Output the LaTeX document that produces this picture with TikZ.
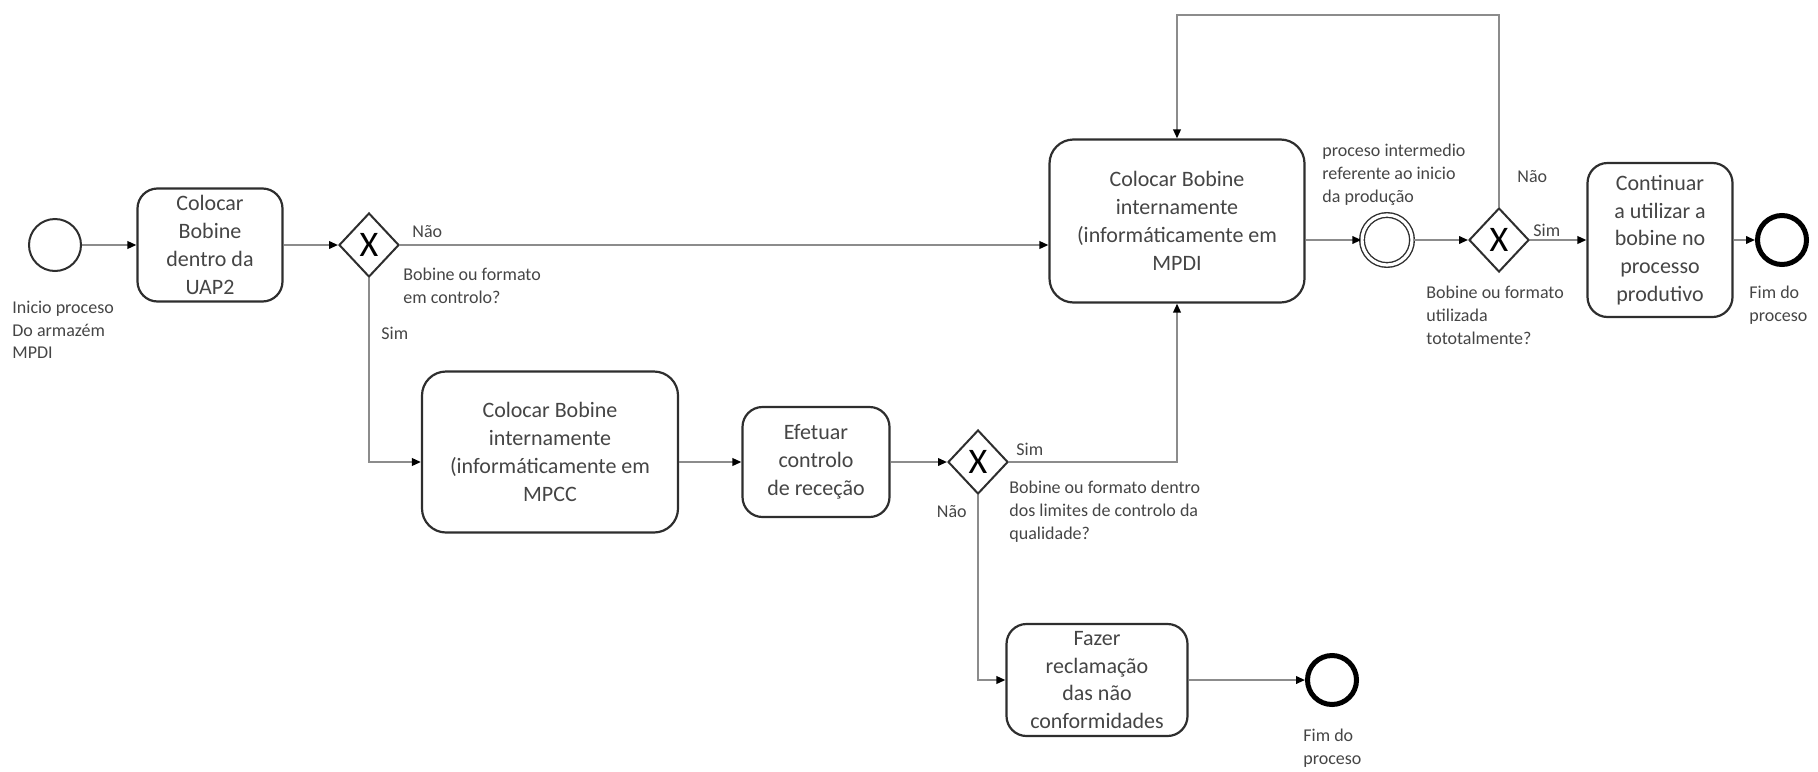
\documentclass[tikz,border=0pt]{standalone}
\usepackage{fontspec}
\setmainfont{Carlito}
\usepackage{xcolor}
\definecolor{BoxLine} {HTML}{2E2E2E}
\definecolor{FlowGray}{HTML}{8C8C8C}
\definecolor{TextGray}{HTML}{454545}
\usetikzlibrary{arrows.meta,positioning,shapes.geometric}

\begin{document}
\begin{tikzpicture}[x=0.5pt,y=-0.5pt,
  activity/.style={draw=BoxLine,fill=white,line width=1.1pt,rounded corners=10pt,
    font=\fontsize{11}{13.9}\selectfont,text=TextGray,inner sep=2pt,align=center},
  gateway/.style={diamond,draw=BoxLine,fill=white,line width=1pt,inner sep=0pt,
    minimum width=30pt,minimum height=32pt,font=\fontsize{18}{18}\selectfont},
  startev/.style={circle,draw=BoxLine,line width=1pt,minimum size=26pt,inner sep=0pt},
  endev/.style={circle,draw=black,line width=2.5pt,minimum size=24.5pt,inner sep=0pt},
  midev/.style={circle,draw=BoxLine,line width=0.7pt,double,double distance=1.6pt,
    minimum size=25pt,inner sep=0pt},
  arr/.style={-{Triangle[length=4.5pt,width=3.8pt,color=black]},FlowGray,line width=0.9pt},
  lbl/.style={font=\fontsize{9}{11.3}\selectfont,text=TextGray,inner sep=0pt,align=left}]
  \useasboundingbox (0,0) rectangle (1818,771);

  % upper flow
  \node[startev](start) at (55,245) {};
  \node[activity,minimum width=72.5pt,minimum height=56.5pt](uap) at (210,245)
    {Colocar\\Bobine\\dentro da\\UAP2};
  \node[gateway](gwctl) at (369,245) {X};
  \node[activity,minimum width=127.5pt,minimum height=81.5pt,rounded corners=12pt](mpdi)
    at (1177,221)
    {Colocar Bobine\\internamente\\(informáticamente em\\MPDI};
  \node[midev](inter) at (1387,240) {};
  \node[gateway](gwuse) at (1499,240) {X};
  \node[activity,minimum width=72.5pt,minimum height=77pt](cont) at (1660,240)
    {Continuar\\a utilizar a\\bobine no\\processo\\produtivo};
  \node[endev](endtop) at (1782,240) {};

  % lower flow
  \node[activity,minimum width=128pt,minimum height=80.5pt,rounded corners=12pt](mpcc)
    at (550,452)
    {Colocar Bobine\\internamente\\(informáticamente em\\MPCC};
  \node[activity,minimum width=73.5pt,minimum height=55pt](recep) at (816,462)
    {Efetuar\\controlo\\de receção};
  \node[gateway](gwqual) at (978,462) {X};
  \node[activity,minimum width=90.5pt,minimum height=56pt](recl) at (1097,680)
    {Fazer\\reclamação\\das não\\conformidades};
  \node[endev](endlow) at (1332,680) {};
  \coordinate (back) at (1340,15);

  % sequence flows
  \draw[arr](start)--(uap);
  \draw[arr](uap)--(gwctl);
  \draw[arr](gwctl)--(gwctl -| mpdi.west);
  \draw[arr](gwctl.south)|-(mpcc.west |- recep.west);
  \draw[arr](mpcc.east |- recep.east)--(recep);
  \draw[arr](recep)--(gwqual);
  \draw[arr](gwqual.east)-|(mpdi.south);
  \draw[arr](gwqual.south)|-(recl);
  \draw[arr](recl)--(endlow);
  \draw[arr](inter -| mpdi.east)--(inter);
  \draw[arr](inter)--(gwuse);
  \draw[arr](gwuse)--(cont);
  \draw[arr](cont)--(endtop);
  \draw[arr](gwuse.north)|-(back)-|(mpdi.north);

  % Annotation
  \node[lbl,anchor=north west] at (12,301) {Inicio proceso\\Do armazém\\MPDI};
  \node[lbl,anchor=west] at (412,232) {Não};
  \node[lbl,anchor=north west] at (403,268) {Bobine ou formato\\em controlo?};
  \node[lbl,anchor=west] at (381,333) {Sim};
  \node[lbl,anchor=west] at (1016,449) {Sim};
  \node[lbl,anchor=north west] at (1009,481)
    {Bobine ou formato dentro\\dos limites de controlo da\\qualidade?};
  \node[lbl,anchor=east] at (967,512) {Não};
  \node[lbl,anchor=north west] at (1322,144)
    {proceso intermedio\\referente ao inicio\\da produção};
  \node[lbl,anchor=west] at (1517,177) {Não};
  \node[lbl,anchor=west] at (1533,230) {Sim};
  \node[lbl,anchor=north west] at (1426,286)
    {Bobine ou formato\\utilizada\\tototalmente?};
  \node[lbl,anchor=north west] at (1749,286) {Fim do\\proceso};
  \node[lbl,anchor=north west] at (1303,729) {Fim do\\proceso};
\end{tikzpicture}
\end{document}
